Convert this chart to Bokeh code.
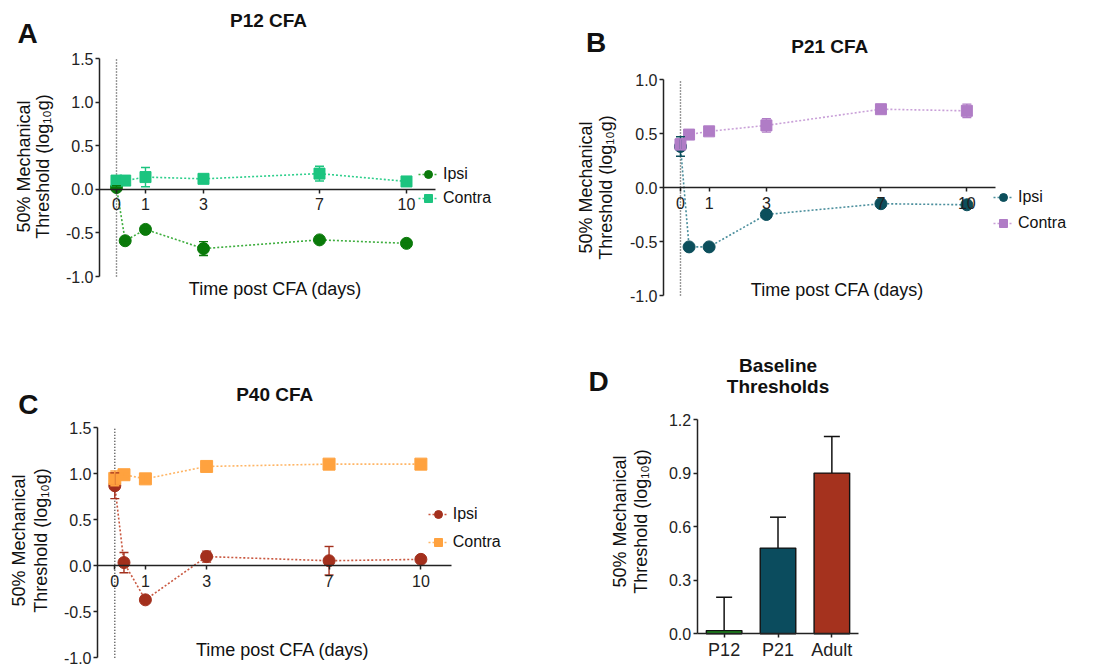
import math
from bokeh.plotting import figure
from bokeh.layouts import row, column
from bokeh.models import (Range1d, Whisker, TeeHead, ColumnDataSource,
                          Legend, LegendItem, Label, FixedTicker, NumeralTickFormatter)
from bokeh.embed import file_html
from bokeh.resources import INLINE

# ---------------- data ----------------
DAYS = [0, 0.3, 1, 3, 7, 10]
X_TICKS = [0, 1, 3, 7, 10]

P12_IPSI = [0.02, -0.59, -0.46, -0.68, -0.58, -0.62]
P12_IPSI_SEM = [0.02, 0.02, 0.02, 0.08, 0.02, 0.02]
P12_CONTRA = [0.10, 0.10, 0.14, 0.12, 0.18, 0.09]
P12_CONTRA_SEM = [0.03, 0.02, 0.11, 0.02, 0.085, 0.02]

P21_IPSI = [0.38, -0.55, -0.55, -0.25, -0.15, -0.16]
P21_IPSI_SEM = [0.09, 0.02, 0.02, 0.02, 0.02, 0.02]
P21_CONTRA = [0.40, 0.49, 0.52, 0.575, 0.725, 0.71]
P21_CONTRA_SEM = [0.05, 0.03, 0.03, 0.062, 0.02, 0.062]

P40_IPSI = [0.87, 0.035, -0.37, 0.10, 0.055, 0.07]
P40_IPSI_SEM = [0.14, 0.11, 0.03, 0.06, 0.155, 0.02]
P40_CONTRA = [0.95, 0.99, 0.945, 1.08, 1.105, 1.105]
P40_CONTRA_SEM = [0.08, 0.02, 0.05, 0.02, 0.02, 0.02]

BASE_GROUPS = ["P12", "P21", "Adult"]
BASE_MEAN = [0.018, 0.48, 0.90]
BASE_SEM = [0.187, 0.173, 0.205]

Y_TICKS_15 = [-1.0, -0.5, 0.0, 0.5, 1.0, 1.5]
Y_TICKS_10 = [-1.0, -0.5, 0.0, 0.5, 1.0]
Y_TICKS_D = [0.0, 0.3, 0.6, 0.9, 1.2]

# ---------------- style ----------------
FONT = "Liberation Sans"
INK = "#222222"
YLAB1 = "50% Mechanical"
YLAB2 = "Threshold (log\u2081\u2080g)"
XLAB = "Time post CFA (days)"
BASE_COLORS = ["#1c8a1c", "#0b4c5e", "#a5321e"]


def full_ranges(geom, xr, yr):
    W, H, fl, ft, fw, fh = geom
    kx = (xr[1] - xr[0]) / fw
    ky = (yr[1] - yr[0]) / fh
    fx = (xr[0] - fl * kx, xr[1] + (W - fl - fw) * kx)
    fy = (yr[0] - (H - ft - fh) * ky, yr[1] + ft * ky)
    return fx, fy


def mapper(geom, xr, yr):
    W, H, fl, ft, fw, fh = geom
    def to_data(px, py):
        x = xr[0] + (px - fl) * (xr[1] - xr[0]) / fw
        y = yr[1] - (py - ft) * (yr[1] - yr[0]) / fh
        return x, y
    return to_data


def add_text(p, to_data, px, py, text, size, bold=False, angle=0.0):
    x, y = to_data(px, py)
    p.add_layout(Label(x=x, y=y, text=text, text_font=FONT, text_font_size=f"{size}px",
                       text_font_style="bold" if bold else "normal", text_align="center",
                       text_baseline="middle", angle=angle, text_color="#111111"))


def style_axis(ax, size):
    ax.axis_line_color = INK
    ax.axis_line_width = 1.5
    ax.major_tick_line_color = INK
    ax.major_tick_line_width = 1.5
    ax.major_tick_in = 0
    ax.major_tick_out = 4
    ax.minor_tick_line_color = None
    ax.major_label_text_font = FONT
    ax.major_label_text_font_size = f"{size}px"
    ax.major_label_text_color = INK


def base_figure(geom, xr, yr):
    W, H = geom[0], geom[1]
    fx, fy = full_ranges(geom, xr, yr)
    p = figure(width=W, height=H, x_range=Range1d(*fx), y_range=Range1d(*fy),
               output_backend="svg", toolbar_location=None, tools="", min_border=0)
    p.outline_line_color = None
    p.grid.visible = False
    return p


def timecourse(geom, xr, yr, yticks, letter, title, ipsi, ipsi_sem, contra, contra_sem,
               cols, sizes, leg, texts):
    W, H, fl, ft, fw, fh = geom
    p = base_figure(geom, xr, yr)

    ya = p.yaxis[0]
    ya.fixed_location = xr[0]
    ya.bounds = yr
    ya.ticker = FixedTicker(ticks=yticks)
    ya.formatter = NumeralTickFormatter(format="0.0")
    style_axis(ya, 16)
    ya.major_label_standoff = 2

    xa = p.xaxis[0]
    xa.fixed_location = 0
    xa.bounds = xr
    xa.ticker = FixedTicker(ticks=X_TICKS)
    style_axis(xa, 16)
    xa.major_label_standoff = 5

    # dotted reference line at day 0, spanning the y-axis extent
    p.segment(x0=[0], y0=[yr[0]], x1=[0], y1=[yr[1]], line_color="#333333",
              line_dash="1 2", line_width=1.4)

    (ic, il, cc, cl) = cols
    (isz, csz) = sizes
    for vals, sem, c in ((ipsi, ipsi_sem, ic), (contra, contra_sem, cc)):
        src = ColumnDataSource(dict(x=DAYS, lo=[v - s for v, s in zip(vals, sem)],
                                    hi=[v + s for v, s in zip(vals, sem)]))
        p.add_layout(Whisker(base="x", lower="lo", upper="hi", source=src, line_color=c,
                             line_width=1.4, level="glyph",
                             upper_head=TeeHead(size=9, line_color=c, line_width=1.4),
                             lower_head=TeeHead(size=9, line_color=c, line_width=1.4)))
    l_i = p.line(DAYS, ipsi, line_color=il, line_dash="2 2", line_width=1.6)
    l_c = p.line(DAYS, contra, line_color=cl, line_dash="2 2", line_width=1.6)
    s_i = p.scatter(DAYS, ipsi, marker="circle", size=isz, fill_color=ic, line_color=ic)
    s_c = p.scatter(DAYS, contra, marker="square", size=csz, fill_color=cc, line_color=cc)

    vx, vy, spacing = leg
    legend = Legend(items=[LegendItem(label="Ipsi", renderers=[l_i, s_i]),
                           LegendItem(label="Contra", renderers=[l_c, s_c])],
                    location=(fl + vx, (H - ft - fh) + vy), spacing=spacing, padding=0,
                    margin=0, glyph_width=20, glyph_height=20, label_height=20,
                    label_standoff=5, label_text_font=FONT, label_text_font_size="16px",
                    label_text_color="#111111", border_line_color=None,
                    background_fill_alpha=0)
    p.add_layout(legend)

    to_data = mapper(geom, xr, yr)
    (lx, ly), (tx, ty), (xx, xy), (y1x, y2x, yy) = texts
    add_text(p, to_data, lx, ly, letter, 28, bold=True)
    add_text(p, to_data, tx, ty, title, 19, bold=True)
    add_text(p, to_data, xx, xy, XLAB, 18)
    add_text(p, to_data, y1x, yy, YLAB1, 18, angle=math.pi / 2)
    add_text(p, to_data, y2x, yy, YLAB2, 18, angle=math.pi / 2)
    return p


pA = timecourse((560, 345, 99, 58, 336, 218), (-0.586, 11.0), (-1.0, 1.5), Y_TICKS_15,
                "A", "P12 CFA", P12_IPSI, P12_IPSI_SEM, P12_CONTRA, P12_CONTRA_SEM,
                ("#0a7a0a", "#3fae3f", "#1cc47f", "#2fcf8c"), (12, 11),
                (319, 68, 4),
                ((27, 33), (268, 20), (275, 288), (23.7, 42.5, 166)))

pB = timecourse((540, 345, 103, 79, 332, 216), (-0.593, 11.0), (-1.0, 1.0), Y_TICKS_10,
                "B", "P21 CFA", P21_IPSI, P21_IPSI_SEM, P21_CONTRA, P21_CONTRA_SEM,
                ("#0c4f5c", "#4a8e9c", "#b07cc6", "#c9a0d8"), (12, 11),
                (330, 62.3, 6),
                ((35.5, 42), (269.3, 46), (277, 289), (25, 45.5, 187)))

pC = timecourse((588, 322, 97, 82.3, 354, 230), (-0.565, 11.0), (-1.0, 1.5), Y_TICKS_15,
                "C", "P40 CFA", P40_IPSI, P40_IPSI_SEM, P40_CONTRA, P40_CONTRA_SEM,
                ("#a3301d", "#c9573f", "#ffa23f", "#ffb565"), (12, 12),
                (330.7, 105, 8),
                ((27.8, 59), (274.2, 49), (282.2, 304), (18.8, 40.5, 195)))

# ---------------- panel D ----------------
D_GEOM = (300, 322, 108.7, 74, 161.6, 214.3)
D_XR = (-0.5, len(BASE_GROUPS) - 0.5)
D_YR = (0.0, 1.2)
pD = base_figure(D_GEOM, D_XR, D_YR)
POS = list(range(len(BASE_GROUPS)))

dya = pD.yaxis[0]
dya.fixed_location = D_XR[0]
dya.bounds = D_YR
dya.ticker = FixedTicker(ticks=Y_TICKS_D)
dya.formatter = NumeralTickFormatter(format="0.0")
style_axis(dya, 16)
dya.major_label_standoff = 2

dxa = pD.xaxis[0]
dxa.fixed_location = 0
dxa.bounds = D_XR
dxa.ticker = FixedTicker(ticks=POS)
dxa.major_label_overrides = {i: g for i, g in zip(POS, BASE_GROUPS)}
style_axis(dxa, 18)
dxa.major_label_standoff = 2

dsrc = ColumnDataSource(dict(x=POS, m=BASE_MEAN,
                             hi=[m + s for m, s in zip(BASE_MEAN, BASE_SEM)],
                             c=BASE_COLORS))
pD.add_layout(Whisker(base="x", lower="m", upper="hi", source=dsrc, line_color="#111111",
                      line_width=1.5, lower_head=None,
                      upper_head=TeeHead(size=16, line_color="#111111", line_width=1.5)))
pD.vbar(x="x", top="m", width=0.66, source=dsrc, fill_color="c", line_color="#111111",
        line_width=1.4)

d_to_data = mapper(D_GEOM, D_XR, D_YR)
add_text(pD, d_to_data, 10, 36, "D", 28, bold=True)
add_text(pD, d_to_data, 189.5, 20, "Baseline", 19, bold=True)
add_text(pD, d_to_data, 189.5, 41, "Thresholds", 19, bold=True)
add_text(pD, d_to_data, 31, 176, YLAB1, 18, angle=math.pi / 2)
add_text(pD, d_to_data, 52, 176, YLAB2, 18, angle=math.pi / 2)

layout = column(row(pA, pB), row(pC, pD))
open("out.html", "w").write(file_html(layout, INLINE))
